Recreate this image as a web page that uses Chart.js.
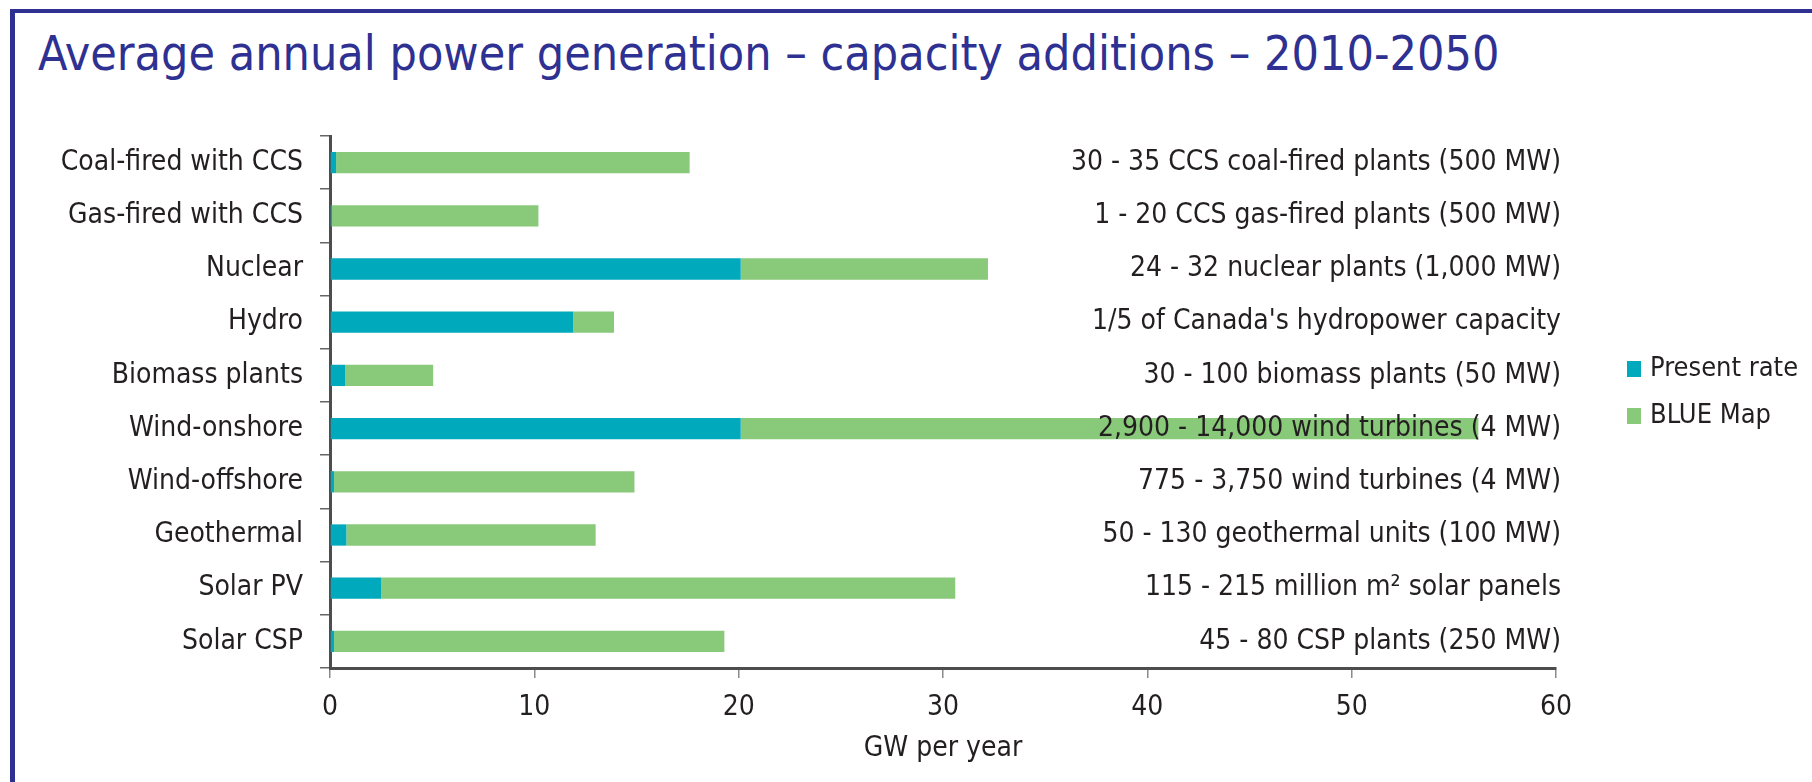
<!DOCTYPE html>
<html>
<head>
<meta charset="utf-8">
<script src="https://cdn.jsdelivr.net/npm/chart.js@4"></script>
<style>
  body { margin: 0; background: #fff; }
  #wrap { position: relative; width: 1812px; height: 782px; overflow: hidden; }
  #frame { position: absolute; left: 10px; top: 9px; width: 1900px; height: 900px;
           border-top: 4px solid #2E3192; border-left: 5px solid #2E3192; }
  #title { position: absolute; left: 38px; top: 28px; font-family: 'Liberation Sans Narrow', 'DejaVu Sans Condensed', sans-serif;
           font-size: 48px; line-height: 50px; color: #2E3192; white-space: nowrap; }
  #chart { position: absolute; left: 0; top: 0; }
</style>
</head>
<body>
<div id="wrap">
  <div id="frame"></div>
  <div id="title">Average annual power generation – capacity additions – 2010-2050</div>
  <canvas id="chart" width="1812" height="782"></canvas>
</div>
<script>
// categories and values (GW per year)
const categories = ['Coal-fired with CCS', 'Gas-fired with CCS', 'Nuclear', 'Hydro', 'Biomass plants',
  'Wind-onshore', 'Wind-offshore', 'Geothermal', 'Solar PV', 'Solar CSP'];
const presentRate = [0.3, 0.1, 20.1, 11.9, 0.75, 20.1, 0.2, 0.8, 2.5, 0.2];
const blueMap = [17.3, 10.1, 12.1, 2.0, 4.3, 36.1, 14.7, 12.2, 28.1, 19.1];
const notes = [
  '30 - 35 CCS coal-fired plants (500 MW)',
  '1 - 20 CCS gas-fired plants (500 MW)',
  '24 - 32 nuclear plants (1,000 MW)',
  "1/5 of Canada's hydropower capacity",
  '30 - 100 biomass plants (50 MW)',
  '2,900 - 14,000 wind turbines (4 MW)',
  '775 - 3,750 wind turbines (4 MW)',
  '50 - 130 geothermal units (100 MW)',
  '115 - 215 million m² solar panels',
  '45 - 80 CSP plants (250 MW)'
];
const xMin = 0, xMax = 60, xStep = 10;

const FONT = "'Liberation Sans Narrow', 'DejaVu Sans Condensed', sans-serif";
const TEXT = '#231F20';

// right-hand notes, one per category row
const notesPlugin = {
  id: 'notes',
  afterDatasetsDraw(chart) {
    const ctx = chart.ctx;
    const y = chart.scales.y;
    ctx.save();
    ctx.font = '28px ' + FONT;
    ctx.fillStyle = TEXT;
    ctx.textAlign = 'right';
    ctx.textBaseline = 'middle';
    notes.forEach((t, i) => ctx.fillText(t, chart.chartArea.right + 5, y.getPixelForValue(i)));
    ctx.restore();
  }
};

// small legend at the right
const legendPlugin = {
  id: 'sideLegend',
  afterDraw(chart) {
    const ctx = chart.ctx;
    const left = chart.chartArea.right + 71;
    ctx.save();
    ctx.font = '27px ' + FONT;
    ctx.textBaseline = 'middle';
    chart.data.datasets.forEach((ds, i) => {
      const cy = 369 + i * 47;
      ctx.fillStyle = ds.backgroundColor;
      ctx.fillRect(left, cy - 8, 14, 16);
      ctx.fillStyle = TEXT;
      ctx.fillText(ds.label, left + 23, cy);
    });
    ctx.restore();
  }
};

new Chart(document.getElementById('chart'), {
  type: 'bar',
  data: {
    labels: categories,
    datasets: [
      { label: 'Present rate', data: presentRate, backgroundColor: '#00A9BC',
        barPercentage: 0.4, categoryPercentage: 1.0 },
      { label: 'BLUE Map', data: blueMap, backgroundColor: '#89C97A',
        barPercentage: 0.4, categoryPercentage: 1.0 }
    ]
  },
  options: {
    indexAxis: 'y',
    responsive: false,
    animation: false,
    layout: { padding: { left: 0, top: 136, right: 256, bottom: 16 } },
    plugins: { legend: { display: false }, tooltip: { enabled: false } },
    scales: {
      x: {
        stacked: true,
        min: xMin, max: xMax,
        ticks: { stepSize: xStep, color: TEXT, font: { family: FONT, size: 28 }, padding: 13 },
        grid: { drawOnChartArea: false, drawTicks: true, tickLength: 10, color: '#8a8a8a', lineWidth: 1.5 },
        border: { display: true, color: '#4D4D4D', width: 3 },
        title: { display: true, text: 'GW per year', color: TEXT, font: { family: FONT, size: 28 }, padding: { top: 0, bottom: 0 } },
        afterFit: s => { s.height = 98; }
      },
      y: {
        stacked: true,
        ticks: { color: TEXT, font: { family: FONT, size: 28 }, padding: 17 },
        grid: { drawOnChartArea: false, drawTicks: true, tickLength: 10, color: '#666', lineWidth: 1.5, offset: true },
        border: { display: true, color: '#4D4D4D', width: 3 },
        afterFit: s => { s.width = 330; }
      }
    }
  },
  plugins: [notesPlugin, legendPlugin]
});
</script>
</body>
</html>
